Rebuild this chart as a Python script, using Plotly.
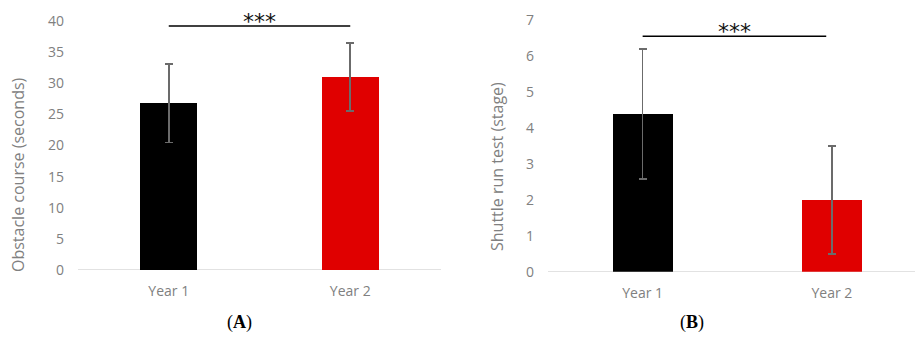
import plotly.graph_objects as go

categories = ["Year 1", "Year 2"]
obstacle_mean = [26.8, 31.0]
obstacle_sd = [6.3, 5.45]
shuttle_mean = [4.38, 2.0]
shuttle_sd = [1.81, 1.5]
bar_colors = ["#000000", "#e00000"]
sig_text = "***"

W, H = 915, 347
fig = go.Figure()

fig.add_trace(go.Bar(x=[0, 1], y=obstacle_mean, width=0.314, marker_color=bar_colors,
                     marker_line_width=0,
                     error_y=dict(type="data", array=obstacle_sd, color="#6b6b6b", thickness=1.6, width=4),
                     xaxis="x", yaxis="y", showlegend=False))
fig.add_trace(go.Bar(x=[0, 1], y=shuttle_mean, width=0.317, marker_color=bar_colors,
                     marker_line_width=0,
                     error_y=dict(type="data", array=shuttle_sd, color="#6b6b6b", thickness=1.6, width=4),
                     xaxis="x2", yaxis="y2", showlegend=False))

tickfont = dict(family="Open Sans, Liberation Sans, sans-serif", size=14, color="#808080")
xcommon = dict(tickmode="array", tickvals=[0, 1], ticktext=categories, showgrid=False,
               zeroline=False, showline=False, ticks="", tickfont=tickfont, automargin=False,
               ticklabelstandoff=11)
ycommon = dict(showgrid=False, zeroline=False, showline=False, ticks="", tickfont=tickfont,
               automargin=False, ticklabelstandoff=13)

fig.update_layout(
    width=W, height=H, margin=dict(l=0, r=0, t=0, b=0, pad=0),
    paper_bgcolor="white", plot_bgcolor="white",
    xaxis=dict(domain=[78 / W, 441 / W], range=[-0.5, 1.5], anchor="y", **xcommon),
    yaxis=dict(domain=[77 / H, 326 / H], range=[0, 40], dtick=5, anchor="x", **ycommon),
    xaxis2=dict(domain=[548 / W, 1.0], range=[-0.5, 1.439], anchor="y2", **xcommon),
    yaxis2=dict(domain=[75.3 / H, 327 / H], range=[0, 7], dtick=1, anchor="x2", **ycommon),
    bargap=0,
)

# baseline axis lines
for xr, yr in [("x", "y"), ("x2", "y2")]:
    fig.add_shape(type="line", xref=xr + " domain", yref=yr, x0=0, x1=1, y0=0, y1=0,
                  line=dict(color="#d9d9d9", width=1.5), layer="below")

# significance lines
fig.add_shape(type="line", xref="x", yref="y", x0=0, x1=1, y0=39.2, y1=39.2,
              line=dict(color="#000000", width=1.4))
fig.add_shape(type="line", xref="x2", yref="y2", x0=0, x1=0.97, y0=6.55, y1=6.55,
              line=dict(color="#000000", width=1.4))

starfont = dict(family="DejaVu Sans, sans-serif", size=22, color="#111111")
fig.add_annotation(x=0.5, y=39.2, xref="x", yref="y", text=sig_text, showarrow=False,
                   yanchor="bottom", yshift=-10, font=starfont)
fig.add_annotation(x=0.485, y=6.55, xref="x2", yref="y2", text=sig_text, showarrow=False,
                   yanchor="bottom", yshift=-10, font=starfont)

titlefont = dict(family="Open Sans, Liberation Sans, sans-serif", size=16, color="#808080")
fig.add_annotation(x=18 / W, y=1 - 175 / H, xref="paper", yref="paper",
                   text="Obstacle course (seconds)", textangle=-90, showarrow=False,
                   font=titlefont, xanchor="center", yanchor="middle")
fig.add_annotation(x=497 / W, y=1 - 167 / H, xref="paper", yref="paper",
                   text="Shuttle run test (stage)", textangle=-90, showarrow=False,
                   font=titlefont, xanchor="center", yanchor="middle")

labfont = dict(family="Liberation Serif, Times New Roman, serif", size=18, color="#000000")
fig.add_annotation(x=225 / W, y=1 - 335 / H, xref="paper", yref="paper",
                   text="(<b>A</b>)", showarrow=False, font=labfont)
fig.add_annotation(x=706 / W, y=1 - 335 / H, xref="paper", yref="paper",
                   text="(<b>B</b>)", showarrow=False, font=labfont)

fig.write_html("out.html")
